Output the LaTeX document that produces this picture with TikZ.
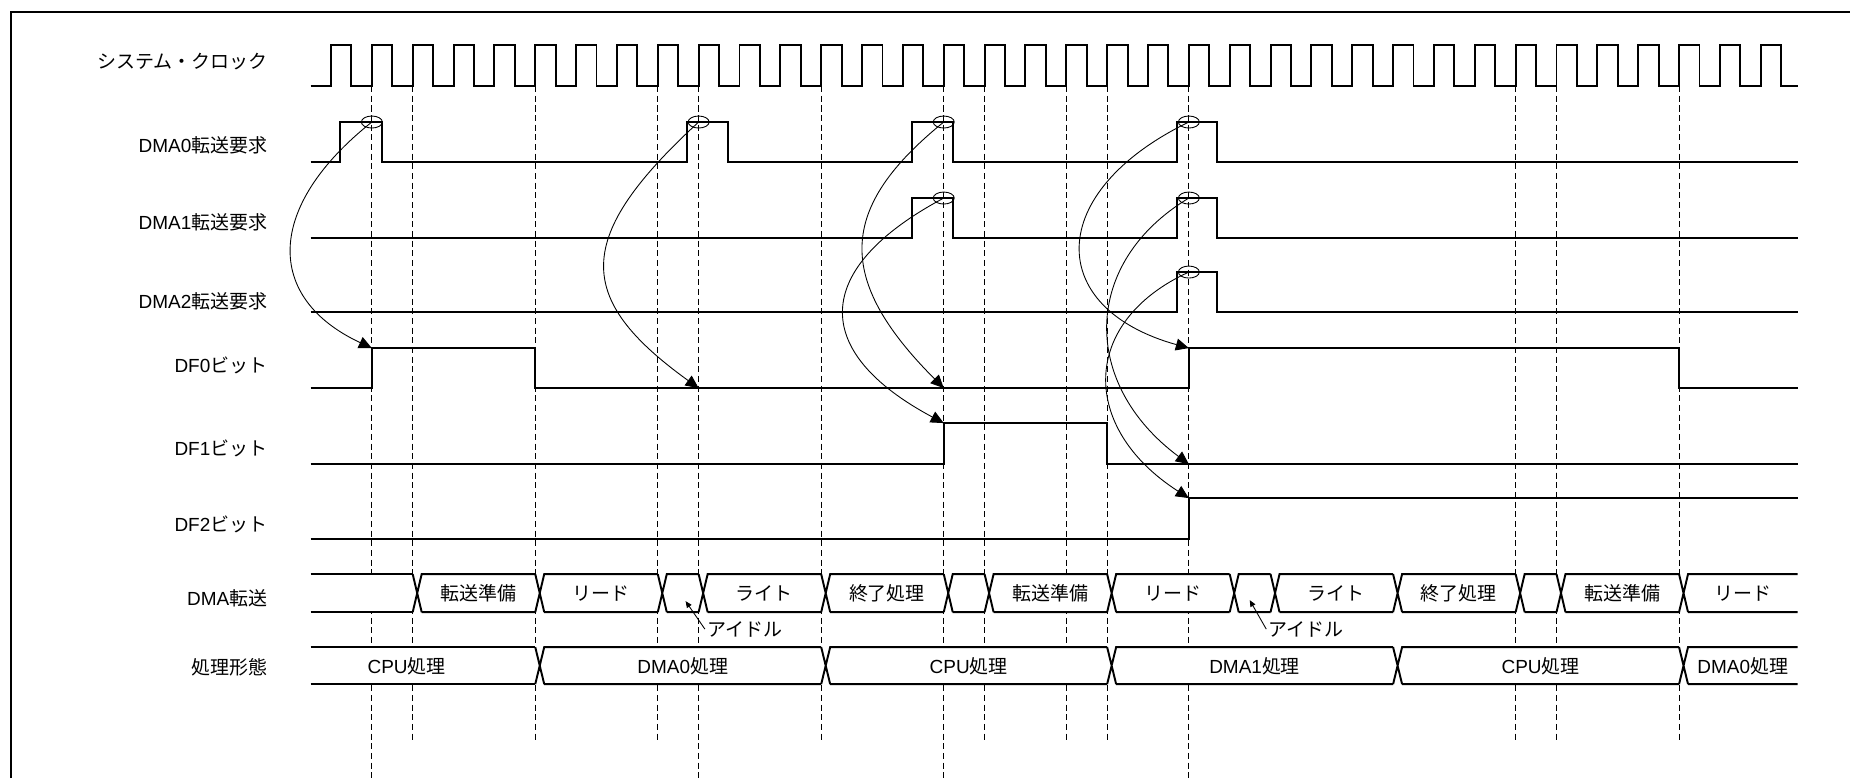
\documentclass[tikz,border=0pt]{standalone}
\usepackage{fontspec}
\setmainfont{Liberation Sans}
\newfontfamily\jpn{Noto Sans CJK JP}
\usepackage{tikz}
\usetikzlibrary{arrows.meta,shapes.geometric}

\begin{document}
\begin{tikzpicture}[x=0.817cm, y=-0.02cm,
    every node/.style={font=\fontsize{10.8}{13}\selectfont},
    sig/.style={line width=1.1pt},
    guide/.style={line width=0.5pt, dash pattern=on 3.5pt off 2pt},
    req/.style={line width=0.5pt, -{Triangle[length=2.6mm,width=2.4mm]}},
    smp/.style={ellipse, draw, line width=0.5pt, minimum width=0.42cm, minimum height=0.24cm, inner sep=0pt},
    lbl/.style={anchor=east, inner sep=0pt}]
    \useasboundingbox (-8.103,0) rectangle (37.185,778);
    \fill[white] (-8.103,0) rectangle (37.185,778);
    \draw[line width=1.2pt] (-7.84,778) -- (-7.84,12) -- (37.185,12);

    % guide lines on the clock edges
    \foreach \k in {2,5,8,12,16,18,19,29,30,33} \draw[guide] (\k,86) -- (\k,743);
    \foreach \k in {1,9,15,21} \draw[guide] (\k,86) -- (\k,778);

    % signal names
    \node[lbl] (lclk) at (-1.55,62) {\jpn システム・クロック};
    \node[lbl] (lreq0) at (-1.55,145) {DMA0{\jpn 転送要求}};
    \node[lbl] (lreq1) at (-1.55,222) {DMA1{\jpn 転送要求}};
    \node[lbl] (lreq2) at (-1.55,301) {DMA2{\jpn 転送要求}};
    \node[lbl] (ldf0) at (-1.55,365) {DF0{\jpn ビット}};
    \node[lbl] (ldf1) at (-1.55,448) {DF1{\jpn ビット}};
    \node[lbl] (ldf2) at (-1.55,524) {DF2{\jpn ビット}};
    \node[lbl] (ldma) at (-1.55,598) {DMA{\jpn 転送}};
    \node[lbl] (lmode) at (-1.55,667) {\jpn 処理形態};

    % waveforms
    \draw[sig] (-0.5,86) \foreach \k in {0,...,35} { -- (\k,86) -- (\k,45) -- (\k+0.5,45) -- (\k+0.5,86) } -- (35.9,86);
    \draw[sig] (-0.5,162) -- (0.22,162) -- (0.22,122) -- (1.24,122) -- (1.24,162) -- (8.72,162) -- (8.72,122) -- (9.71,122) -- (9.71,162)
        -- (14.23,162) -- (14.23,122) -- (15.22,122) -- (15.22,162) -- (20.72,162) -- (20.72,122) -- (21.7,122) -- (21.7,162) -- (35.9,162);
    \draw[sig] (-0.5,238) -- (14.23,238) -- (14.23,198) -- (15.22,198) -- (15.22,238) -- (20.72,238) -- (20.72,198) -- (21.7,198) -- (21.7,238) -- (35.9,238);
    \draw[sig] (-0.5,312) -- (20.72,312) -- (20.72,272) -- (21.7,272) -- (21.7,312) -- (35.9,312);
    \draw[sig] (-0.5,388) -- (1,388) -- (1,348) -- (5,348) -- (5,388) -- (21,388) -- (21,348) -- (33,348) -- (33,388) -- (35.9,388);
    \draw[sig] (-0.5,464) -- (15,464) -- (15,423) -- (19,423) -- (19,464) -- (35.9,464);
    \draw[sig] (-0.5,539) -- (21,539) -- (21,498) -- (35.9,498);

    % DMA transfer states
    \fill[white] (-0.5,574) rectangle (35.9,612);
    \draw[sig] (-0.5,574) -- (2,574) (-0.5,612) -- (2,612);
    \foreach \a/\b in {2/5,5/8,8/9,9/12,12/15,15/16,16/19,19/22,22/23,23/26,26/29,29/30,30/33,33/35.9}
        \draw[sig] (\a,574) -- (\a+0.22,612) (\a,612) -- (\a+0.22,574) -- (\b,574) (\a+0.22,612) -- (\b,612);
    \foreach \a/\b/\s [count=\i] in {2/5/転送準備, 5/8/リード, 9/12/ライト, 12/15/終了処理, 16/19/転送準備,
            19/22/リード, 23/26/ライト, 26/29/終了処理, 30/33/転送準備, 33/35.9/リード}
        \node (dma\i) at ({(\a+0.22+\b)/2},593) {\jpn \s};

    % processing mode
    \fill[white] (-0.5,647) rectangle (35.9,684);
    \draw[sig] (-0.5,647) -- (5,647) (-0.5,684) -- (5,684);
    \foreach \a/\b in {5/12,12/19,19/26,26/33,33/35.9}
        \draw[sig] (\a,647) -- (\a+0.22,684) (\a,684) -- (\a+0.22,647) -- (\b,647) (\a+0.22,684) -- (\b,684);
    \node (mode1) at (1.85,666) {CPU{\jpn 処理}};
    \foreach \a/\b/\s [count=\i from 2] in {5/12/DMA0, 12/19/CPU, 19/26/DMA1, 26/33/CPU, 33/35.9/DMA0}
        \node (mode\i) at ({(\a+0.22+\b)/2},666) {\s{\jpn 処理}};

    % idle notes
    \coordinate (gap1) at (8.68,601);
    \coordinate (gap2) at (22.49,600);
    \node[anchor=west, inner sep=1pt] (idle1) at (9.153,629) {\jpn アイドル};
    \node[anchor=west, inner sep=1pt] (idle2) at (22.895,629) {\jpn アイドル};
    \draw[line width=0.5pt, -{Triangle[length=1.3mm,width=1.1mm]}] (idle1.west) -- (gap1);
    \draw[line width=0.5pt, -{Triangle[length=1.3mm,width=1.1mm]}] (idle2.west) -- (gap2);

    % sampled requests and the flags they set
    \node[smp] (q0a) at (1,122) {};
    \node[smp] (q0b) at (9,122) {};
    \node[smp] (q0c) at (15,122) {};
    \node[smp] (q0d) at (21,122) {};
    \node[smp] (q1c) at (15,198) {};
    \node[smp] (q1d) at (21,198) {};
    \node[smp] (q2d) at (21,272) {};
    \coordinate (f0a) at (1,348);
    \coordinate (f0b) at (9,388);
    \coordinate (f0c) at (15,388);
    \coordinate (f0d) at (21,348);
    \coordinate (f1c) at (15,423);
    \coordinate (f1d) at (21,464);
    \coordinate (f2d) at (21,498);
    \draw[req] (q0a.center) .. controls (-1.62,207) and (-1.62,298) .. (f0a);
    \draw[req] (q0b.center) .. controls (5.94,237) and (5.94,298) .. (f0b);
    \draw[req] (q0c.center) .. controls (12.43,207) and (12.31,278) .. (f0c);
    \draw[req] (q1c.center) .. controls (11.74,269) and (11.74,352) .. (f1c);
    \draw[req] (q0d.center) .. controls (17.47,192) and (17.47,308) .. (f0d);
    \draw[req] (q1d.center) .. controls (18.36,263) and (18.36,384) .. (f1d);
    \draw[req] (q2d.center) .. controls (18.33,322) and (18.33,428) .. (f2d);
\end{tikzpicture}
\end{document}
